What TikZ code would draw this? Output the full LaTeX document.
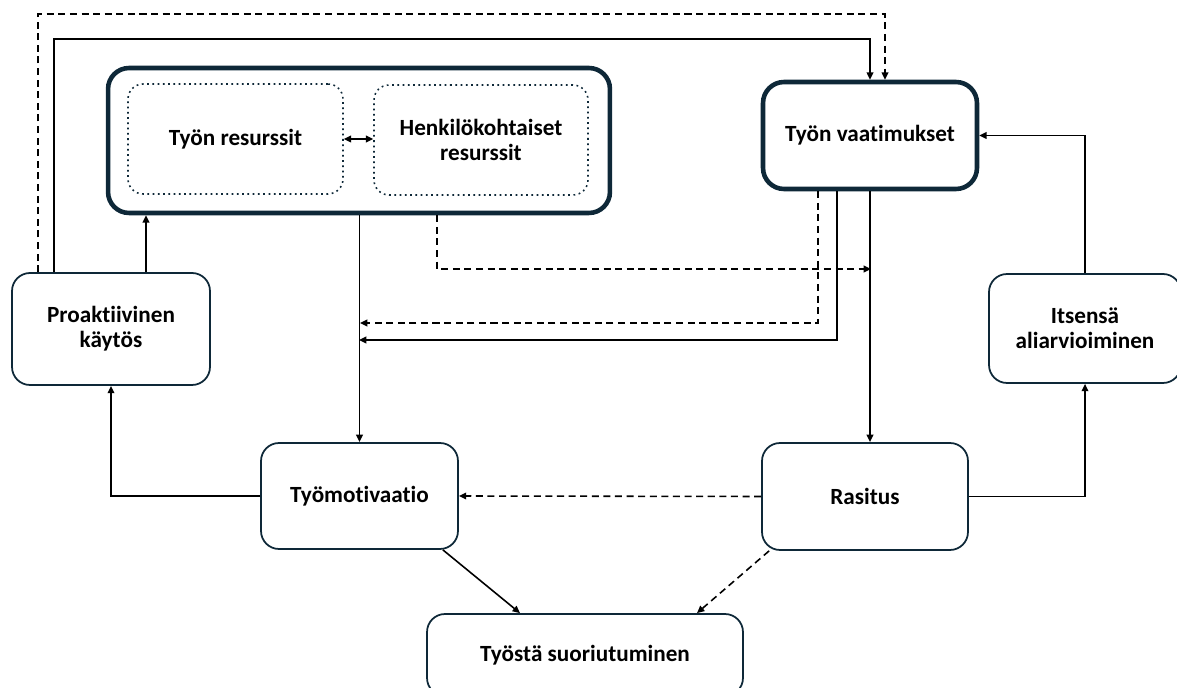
\documentclass[tikz,border=0pt]{standalone}
\usepackage{fontspec}
\setmainfont{Carlito}[Ligatures=NoCommon]
\usetikzlibrary{arrows.meta}
\definecolor{boxline}{RGB}{14,40,56}

\begin{document}
\begin{tikzpicture}[x=0.02cm,y=-0.02cm,>={Triangle[length=4.2pt,width=3.8pt]},
	main node/.style={draw=boxline,rounded corners=0.36cm,line width=1pt,align=center,font=\fontsize{13.2}{14.4}\selectfont\bfseries,inner sep=0pt},
	big node/.style={main node,line width=2.6pt,rounded corners=0.42cm},
	inner node/.style={main node,dotted,line width=0.9pt,rounded corners=0.3cm},
	link/.style={->,line width=0.9pt},
	dlink/.style={link,dash pattern=on 4pt off 2.6pt}]
				\clip (0,0) rectangle (1177,688);

				\node[big node,minimum width=10.04cm,minimum height=2.9cm] at (359,140.5) (res) {};
				\node[inner node,minimum width=4.3cm,minimum height=2.2cm] at (235.5,139) (tres) {Työn resurssit};
				\node[inner node,minimum width=4.28cm,minimum height=2.2cm] at (481,140) (hres) {Henkilökohtaiset\\resurssit};
				\node[big node,minimum width=4.28cm,minimum height=2.14cm] at (870,135.5) (vaat) {Työn vaatimukset};
				\node[main node,minimum width=3.96cm,minimum height=2.24cm] at (111,329) (pro) {Proaktiivinen\\käytös};
				\node[main node,minimum width=3.84cm,minimum height=2.18cm] at (1085,328.5) (itse) {Itsensä\\aliarvioiminen};
				\node[main node,minimum width=3.94cm,minimum height=2.12cm] at (359.5,496) (mot) {Työmotivaatio};
				\node[main node,minimum width=4.12cm,minimum height=2.14cm] at (865,496.5) (ras) {Rasitus};
				\node[main node,minimum width=6.32cm,minimum height=1.64cm] at (585,655) (suor) {Työstä suoriutuminen};

				% ends on the lines between boxes
				\coordinate (proup) at ([xshift=0.7cm]pro.north);
				\coordinate (rasin) at (871,269);
				\coordinate (motin1) at (360,323);
				\coordinate (motin2) at (359,340);

				\draw[<->,line width=0.9pt] (tres.east) -- (tres.east -| hres.west);
				\draw[dlink] ([xshift=-1.46cm]pro.north) -- ++(0,-258) -| ([xshift=0.3cm]vaat.north);
				\draw[link] ([xshift=-1.14cm]pro.north) -- ++(0,-233) -| (vaat.north);
				\draw[link] (proup) -- (proup |- res.south);
				\draw[link] (mot.north |- res.south) -- (mot.north);
				\draw[dlink] ([xshift=1.56cm]res.south) |- (rasin);
				\draw[dlink] ([xshift=-1.04cm]vaat.south) |- (motin1);
				\draw[link] ([xshift=-0.66cm]vaat.south) |- (motin2);
				\draw[link] (vaat.south) -- (vaat.south |- ras.north);
				\draw[link] (itse.north) |- (vaat.east);
				\draw[link] (ras.east) -| (itse.south);
				\draw[link] (mot.west) -| (pro.south);
				\draw[dlink] (ras.west) -- (mot.east);
				\draw[link] ([xshift=-0.32cm]mot.south east) -- ([xshift=-1.3cm]suor.north);
				\draw[dlink] ([xshift=0.16cm]ras.south west) -- ([xshift=2.24cm]suor.north);
\end{tikzpicture}
\end{document}
